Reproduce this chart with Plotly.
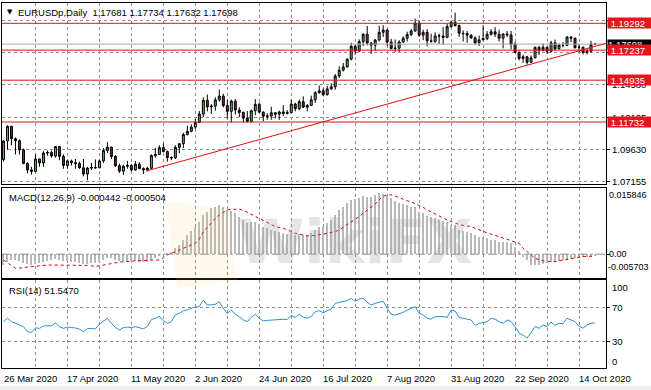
import plotly.graph_objects as go

# ---------------- data (EURUSDp daily, 26 Mar 2020 - 20 Oct 2020) ----------------
open_ = [1.0885, 1.1028, 1.1140, 1.1045, 1.1030, 1.0960, 1.0856, 1.0806, 1.0795, 1.0890,
         1.0860, 1.0935, 1.0940, 1.0913, 1.0985, 1.0910, 1.0840, 1.0875, 1.0862, 1.0855,
         1.0822, 1.0775, 1.0820, 1.0826, 1.0822, 1.0875, 1.0954, 1.0980, 1.0909, 1.0838,
         1.0797, 1.0834, 1.0840, 1.0806, 1.0850, 1.0817, 1.0806, 1.0819, 1.0916, 1.0924,
         1.0977, 1.0947, 1.0901, 1.0899, 1.0979, 1.1007, 1.1077, 1.1102, 1.1134, 1.1170,
         1.1234, 1.1339, 1.1289, 1.1295, 1.1343, 1.1372, 1.1299, 1.1255, 1.1333, 1.1265,
         1.1246, 1.1203, 1.1178, 1.1259, 1.1308, 1.1249, 1.1218, 1.1219, 1.1244, 1.1233,
         1.1250, 1.1239, 1.1245, 1.1311, 1.1275, 1.1329, 1.1287, 1.1300, 1.1343, 1.1398,
         1.1412, 1.1383, 1.1427, 1.1443, 1.1526, 1.1570, 1.1595, 1.1655, 1.1753, 1.1717,
         1.1789, 1.1846, 1.1778, 1.1762, 1.1801, 1.1860, 1.1877, 1.1786, 1.1736, 1.1739,
         1.1786, 1.1815, 1.1843, 1.1870, 1.1930, 1.1838, 1.1860, 1.1795, 1.1791, 1.1832,
         1.1832, 1.1822, 1.1904, 1.1937, 1.1911, 1.1853, 1.1850, 1.1838, 1.1817, 1.1780,
         1.1802, 1.1812, 1.1845, 1.1864, 1.1846, 1.1815, 1.1848, 1.1840, 1.1769, 1.1706,
         1.1660, 1.1673, 1.1631, 1.1665, 1.1745, 1.1722, 1.1745, 1.1715, 1.1780, 1.1734,
         1.1761, 1.1760, 1.1825, 1.1815, 1.1743, 1.1746, 1.1707, 1.1716, 1.17681]
high = [1.1035, 1.1147, 1.1145, 1.1055, 1.1040, 1.0970, 1.0865, 1.0830, 1.0925, 1.0892,
        1.0950, 1.0955, 1.0955, 1.0990, 1.0990, 1.0925, 1.0880, 1.0885, 1.0890, 1.0870,
        1.0890, 1.0830, 1.0860, 1.0887, 1.0885, 1.0973, 1.1019, 1.0985, 1.0920, 1.0855,
        1.0845, 1.0875, 1.0850, 1.0875, 1.0865, 1.0826, 1.0830, 1.0925, 1.0975, 1.0995,
        1.1009, 1.0955, 1.0910, 1.0995, 1.1010, 1.1090, 1.1145, 1.1155, 1.1197, 1.1257,
        1.1362, 1.1384, 1.1310, 1.1362, 1.1422, 1.1390, 1.1343, 1.1345, 1.1350, 1.1285,
        1.1255, 1.1257, 1.1268, 1.1349, 1.1322, 1.1255, 1.1240, 1.1290, 1.1250, 1.1260,
        1.1303, 1.1265, 1.1345, 1.1320, 1.1345, 1.1370, 1.1310, 1.1375, 1.1410, 1.1452,
        1.1430, 1.1450, 1.1470, 1.1540, 1.1600, 1.1625, 1.1660, 1.1780, 1.1765, 1.1806,
        1.1850, 1.1908, 1.1785, 1.1810, 1.1910, 1.1915, 1.1885, 1.1810, 1.1805, 1.1800,
        1.1830, 1.1865, 1.1885, 1.1965, 1.1950, 1.1880, 1.1885, 1.1850, 1.1860, 1.1850,
        1.1900, 1.1925, 1.1950, 1.2011, 1.1920, 1.1875, 1.1870, 1.1845, 1.1830, 1.1835,
        1.1915, 1.1870, 1.1885, 1.1900, 1.1880, 1.1850, 1.1870, 1.1870, 1.1785, 1.1720,
        1.1688, 1.1680, 1.1683, 1.1750, 1.1755, 1.1775, 1.1750, 1.1795, 1.1805, 1.1775,
        1.1785, 1.1830, 1.1830, 1.1820, 1.1770, 1.1750, 1.1730, 1.1795, 1.17734]
low = [1.0870, 1.0960, 1.0995, 1.0925, 1.0925, 1.0850, 1.0780, 1.0770, 1.0790, 1.0830,
       1.0830, 1.0915, 1.0900, 1.0900, 1.0880, 1.0815, 1.0815, 1.0840, 1.0815, 1.0815,
       1.0757, 1.0727, 1.0805, 1.0815, 1.0820, 1.0860, 1.0935, 1.0890, 1.0830, 1.0782,
       1.0767, 1.0815, 1.0795, 1.0800, 1.0810, 1.0775, 1.0795, 1.0815, 1.0900, 1.0920,
       1.0940, 1.0870, 1.0880, 1.0890, 1.0935, 1.0975, 1.1070, 1.1095, 1.1120, 1.1165,
       1.1210, 1.1255, 1.1235, 1.1260, 1.1330, 1.1285, 1.1200, 1.1168, 1.1230, 1.1210,
       1.1170, 1.1168, 1.1170, 1.1225, 1.1240, 1.1180, 1.1190, 1.1190, 1.1200, 1.1190,
       1.1220, 1.1230, 1.1240, 1.1255, 1.1265, 1.1280, 1.1255, 1.1300, 1.1320, 1.1390,
       1.1370, 1.1375, 1.1420, 1.1420, 1.1510, 1.1560, 1.1590, 1.1645, 1.1690, 1.1710,
       1.1755, 1.1760, 1.1695, 1.1720, 1.1790, 1.1825, 1.1755, 1.1730, 1.1710, 1.1710,
       1.1780, 1.1790, 1.1830, 1.1865, 1.1825, 1.1800, 1.1753, 1.1780, 1.1780, 1.1770,
       1.1765, 1.1815, 1.1895, 1.1905, 1.1825, 1.1790, 1.1780, 1.1810, 1.1765, 1.1755,
       1.1800, 1.1800, 1.1835, 1.1825, 1.1790, 1.1737, 1.1825, 1.1730, 1.1700, 1.1645,
       1.1627, 1.1612, 1.1625, 1.1660, 1.1685, 1.1715, 1.1695, 1.1705, 1.1720, 1.1730,
       1.1745, 1.1755, 1.1785, 1.1735, 1.1710, 1.1690, 1.1690, 1.1705, 1.17632]
close = [1.1028, 1.1140, 1.1045, 1.1030, 1.0960, 1.0856, 1.0806, 1.0795, 1.0890, 1.0860,
         1.0935, 1.0940, 1.0913, 1.0985, 1.0910, 1.0840, 1.0875, 1.0862, 1.0855, 1.0822,
         1.0775, 1.0820, 1.0826, 1.0822, 1.0875, 1.0954, 1.0980, 1.0909, 1.0838, 1.0797,
         1.0834, 1.0840, 1.0806, 1.0850, 1.0817, 1.0806, 1.0819, 1.0916, 1.0924, 1.0977,
         1.0947, 1.0901, 1.0899, 1.0979, 1.1007, 1.1077, 1.1102, 1.1134, 1.1170, 1.1234,
         1.1339, 1.1289, 1.1295, 1.1343, 1.1372, 1.1299, 1.1255, 1.1333, 1.1265, 1.1246,
         1.1203, 1.1178, 1.1259, 1.1308, 1.1249, 1.1218, 1.1219, 1.1244, 1.1233, 1.1250,
         1.1239, 1.1245, 1.1311, 1.1275, 1.1329, 1.1287, 1.1300, 1.1343, 1.1398, 1.1412,
         1.1383, 1.1427, 1.1443, 1.1526, 1.1570, 1.1595, 1.1655, 1.1753, 1.1717, 1.1789,
         1.1846, 1.1778, 1.1762, 1.1801, 1.1860, 1.1877, 1.1786, 1.1736, 1.1739, 1.1786,
         1.1815, 1.1843, 1.1870, 1.1930, 1.1838, 1.1860, 1.1795, 1.1791, 1.1832, 1.1832,
         1.1822, 1.1904, 1.1937, 1.1911, 1.1853, 1.1850, 1.1838, 1.1817, 1.1780, 1.1802,
         1.1812, 1.1845, 1.1864, 1.1846, 1.1815, 1.1848, 1.1840, 1.1769, 1.1706, 1.1660,
         1.1673, 1.1631, 1.1665, 1.1745, 1.1722, 1.1745, 1.1715, 1.1780, 1.1734, 1.1761,
         1.1760, 1.1825, 1.1815, 1.1743, 1.1746, 1.1707, 1.1716, 1.1768, 1.17698]

macd_main = [-0.0026, -0.0018, -0.0015, -0.0014, -0.0016, -0.0020, -0.0024, -0.0026, -0.0023, -0.0021,
             -0.0018, -0.0016, -0.0015, -0.0012, -0.0013, -0.0016, -0.0017, -0.0018, -0.0019, -0.0020,
             -0.0023, -0.0023, -0.0022, -0.0021, -0.0019, -0.0014, -0.0010, -0.0010, -0.0013, -0.0016,
             -0.0017, -0.0017, -0.0018, -0.0017, -0.0018, -0.0019, -0.0018, -0.0013, -0.0009, -0.0004,
             0.0000, 0.0003, 0.0006, 0.0014, 0.0022, 0.0035, 0.0046, 0.0056, 0.0066, 0.0078,
             0.0094, 0.0102, 0.0110, 0.0113, 0.0118, 0.0112, 0.0106, 0.0104, 0.0098, 0.0090,
             0.0082, 0.0074, 0.0076, 0.0078, 0.0072, 0.0066, 0.0062, 0.0059, 0.0056, 0.0054,
             0.0051, 0.0049, 0.0050, 0.0046, 0.0048, 0.0046, 0.0045, 0.0050, 0.0058, 0.0064,
             0.0068, 0.0074, 0.0082, 0.0095, 0.0106, 0.0114, 0.0122, 0.0130, 0.0132, 0.0135,
             0.0139, 0.0138, 0.0138, 0.0142, 0.0146, 0.0145, 0.0140, 0.0135, 0.0128, 0.0122,
             0.0119, 0.0117, 0.0114, 0.0112, 0.0102, 0.0098, 0.0092, 0.0090, 0.0086, 0.0082,
             0.0080, 0.0078, 0.0070, 0.0069, 0.0058, 0.0056, 0.0053, 0.0050, 0.0046, 0.0042,
             0.0040, 0.0038, 0.0034, 0.0033, 0.0030, 0.0030, 0.0028, 0.0026, 0.0018, 0.0008,
             -0.0006, -0.0014, -0.0026, -0.0026, -0.0026, -0.0023, -0.0022, -0.0019, -0.0018, -0.0016,
             -0.0015, -0.0013, -0.0012, -0.0010, -0.0008, -0.0007, -0.0006, -0.00055, -0.000442]
macd_signal = [-0.0014, -0.0020, -0.0026, -0.0034, -0.0033, -0.0032, -0.0030, -0.0029, -0.0028, -0.0027,
               -0.0026, -0.0026, -0.0026, -0.0026, -0.0026, -0.0026, -0.0026, -0.0026, -0.0026, -0.0026,
               -0.0026, -0.0027, -0.0028, -0.0029, -0.0028, -0.0026, -0.0024, -0.0022, -0.0020, -0.0019,
               -0.0018, -0.0018, -0.0017, -0.0016, -0.0016, -0.0015, -0.0015, -0.0014, -0.0014, -0.0014,
               -0.0009, -0.0002, 0.0002, 0.0006, 0.0010, 0.0014, 0.0019, 0.0023, 0.0026, 0.0036,
               0.0054, 0.0064, 0.0075, 0.0086, 0.0094, 0.0100, 0.0106, 0.0107, 0.0108, 0.0108,
               0.0105, 0.0100, 0.0095, 0.0090, 0.0085, 0.0080, 0.0074, 0.0070, 0.0066, 0.0064,
               0.0062, 0.0058, 0.0054, 0.0050, 0.0048, 0.0046, 0.0044, 0.0044, 0.0045, 0.0046,
               0.0048, 0.0050, 0.0052, 0.0054, 0.0058, 0.0064, 0.0070, 0.0076, 0.0082, 0.0090,
               0.0098, 0.0105, 0.0111, 0.0120, 0.0130, 0.0139, 0.0141, 0.0142, 0.0139, 0.0135,
               0.0132, 0.0128, 0.0125, 0.0121, 0.0116, 0.0112, 0.0106, 0.0101, 0.0096, 0.0090,
               0.0086, 0.0082, 0.0078, 0.0074, 0.0071, 0.0069, 0.0068, 0.0066, 0.0062, 0.0058,
               0.0054, 0.0051, 0.0048, 0.0045, 0.0042, 0.0039, 0.0036, 0.0033, 0.0030, 0.0026,
               0.0014, 0.0006, -0.0002, -0.0010, -0.0013, -0.0016, -0.0017, -0.0018, -0.0018, -0.0016,
               -0.0014, -0.0012, -0.0010, -0.0008, -0.0006, -0.00055, -0.00052, -0.0005, -0.000504]
rsi = [52.9, 57.0, 53.0, 51.0, 49.0, 47.0, 41.0, 40.3, 45.7, 45.0,
       48.0, 48.0, 48.0, 51.5, 47.0, 45.0, 46.5, 46.0, 45.5, 44.0,
       41.0, 45.0, 45.0, 44.5, 50.0, 54.0, 57.0, 51.0, 46.0, 43.0,
       46.0, 46.5, 46.0, 47.0, 45.5, 44.5, 47.3, 55.4, 57.0, 59.4,
       54.0, 51.0, 53.0, 61.0, 63.0, 66.0, 67.0, 69.0, 70.0, 71.0,
       78.6, 72.7, 73.0, 73.5, 76.6, 68.8, 62.8, 66.8, 61.7, 59.0,
       55.0, 53.0, 58.0, 61.7, 57.0, 53.8, 54.5, 55.0, 55.0, 56.0,
       55.8, 55.5, 60.5, 58.0, 61.7, 58.5, 57.0, 59.0, 64.8, 66.0,
       63.5, 66.0, 68.0, 74.7, 75.5, 76.6, 78.0, 80.6, 77.3, 79.8,
       80.6, 76.0, 72.7, 74.7, 76.0, 77.3, 68.8, 61.7, 60.9, 62.5,
       64.0, 66.8, 68.5, 70.7, 62.8, 60.9, 57.0, 56.0, 59.0, 59.0,
       59.0, 58.0, 66.8, 65.6, 58.0, 57.0, 56.2, 55.0, 48.5, 51.0,
       52.0, 53.0, 57.0, 56.0, 53.0, 51.0, 55.0, 53.0, 47.0, 39.4,
       37.0, 33.5, 40.0, 47.3, 45.0, 49.0, 47.0, 52.5, 48.5, 51.0,
       50.5, 57.0, 55.0, 53.0, 47.3, 45.3, 49.0, 51.0, 51.5470]

bars = list(range(len(close)))
date_label_bars = [0, 16, 32, 48, 64, 80, 96, 112, 128, 144]
date_labels = ["26 Mar 2020", "17 Apr 2020", "11 May 2020", "2 Jun 2020", "24 Jun 2020",
               "16 Jul 2020", "7 Aug 2020", "31 Aug 2020", "22 Sep 2020", "14 Oct 2020"]
grid_bars = [8, 16, 24, 32, 40, 48, 56, 64, 72, 80, 88, 96, 104, 112, 120, 128, 136, 144]
price_ticks = [1.07155, 1.09630, 1.12105, 1.14580, 1.17055, 1.19530]
price_labels_shown = [1.07155, 1.09630, 1.12105, 1.14580, 1.19530]
level_prices = [1.19292, 1.17237, 1.14935, 1.11732]
current_price = 1.17698
trend_x = [35.75, 150.75]
trend_y = [1.0798, 1.1776]
macd_scale = [0.015846, 0.00, -0.005703]
rsi_ticks = [100, 70, 30, 0]

header = "EURUSDp,Daily\u00a0\u00a01.17681\u00a01.17734\u00a01.17632\u00a01.17698"
macd_title = "MACD(12,26,9) -0.000442 -0.000504"
rsi_title = "RSI(14) 51.5470"

# ---------------- styling ----------------
FONT = "Liberation Sans"
FS = 9.5
GRID = "#8c8c8c"
RED = "#e01010"

fig = go.Figure()

fig.add_trace(go.Candlestick(
    x=bars, open=open_, high=high, low=low, close=close,
    increasing=dict(line=dict(color="black", width=1), fillcolor="#5cb15c"),
    decreasing=dict(line=dict(color="black", width=1), fillcolor="#8b2338"),
    whiskerwidth=0, xaxis="x", yaxis="y", hoverinfo="skip", showlegend=False))

fig.add_trace(go.Bar(x=bars, y=macd_main, width=0.3, marker=dict(color="#b8b8b8", line=dict(width=0)),
                     xaxis="x2", yaxis="y2", showlegend=False, hoverinfo="skip"))
fig.add_trace(go.Scatter(x=bars, y=macd_signal, mode="lines",
                         line=dict(color="#d40000", width=1, dash="dot"),
                         xaxis="x2", yaxis="y2", showlegend=False, hoverinfo="skip"))
fig.add_trace(go.Scatter(x=bars, y=rsi, mode="lines", line=dict(color="#2e8fd6", width=1),
                         xaxis="x3", yaxis="y3", showlegend=False, hoverinfo="skip"))

xrange = [-0.375, 150.75]
xcommon = dict(range=xrange, showticklabels=False, tickvals=grid_bars, showgrid=True,
               gridcolor=GRID, griddash="3px,3px", gridwidth=1, ticks="", zeroline=False,
               showline=True, mirror=True, linecolor="black", linewidth=1, fixedrange=True)
ycommon = dict(side="right", showline=True, mirror=True, linecolor="black", linewidth=1,
               zeroline=False, showticklabels=False, ticks="outside", ticklen=3,
               tickcolor="black", fixedrange=True)

fig.update_layout(
    width=651, height=390,
    margin=dict(l=2, r=45, t=3, b=22),
    paper_bgcolor="white", plot_bgcolor="white",
    showlegend=False, bargap=0,
    xaxis=dict(**xcommon, anchor="y", rangeslider=dict(visible=False)),
    xaxis2=dict(**xcommon, anchor="y2", matches="x"),
    xaxis3=dict(**xcommon, anchor="y3", matches="x"),
    yaxis=dict(**ycommon, domain=[0.5041, 1.0], range=[1.06983, 1.20847], tickvals=price_ticks,
               showgrid=True, gridcolor=GRID, griddash="3px,3px", anchor="x"),
    yaxis2=dict(**ycommon, domain=[0.2466, 0.4932], range=[-0.005703, 0.015846],
                tickvals=[0.0], showgrid=False, anchor="x2"),
    yaxis3=dict(**ycommon, domain=[0.0, 0.2411], range=[-2.0, 102.4], tickvals=[30, 70],
                showgrid=True, gridcolor=GRID, griddash="3px,3px", anchor="x3"),
    font=dict(family=FONT, size=FS, color="black"),
)

# ---------------- shapes ----------------
shapes = []
shapes.append(dict(type="line", xref="x domain", x0=0, x1=1, yref="y2", y0=0, y1=0,
                   line=dict(color="#909090", width=1, dash="dashdot")))
shapes.append(dict(type="line", xref="x domain", x0=0, x1=1, yref="y", y0=current_price, y1=current_price,
                   line=dict(color="#a8a8a8", width=1)))
for p in level_prices:
    shapes.append(dict(type="line", xref="x domain", x0=0, x1=1, yref="y", y0=p, y1=p,
                       line=dict(color=RED, width=1)))
shapes.append(dict(type="line", xref="x", yref="y", x0=trend_x[0], x1=trend_x[1],
                   y0=trend_y[0], y1=trend_y[1], line=dict(color=RED, width=1)))
shapes.append(dict(type="rect", xref="paper", yref="paper", x0=-0.01, x1=1.08, y0=-0.07, y1=-0.0493,
                   fillcolor="#f0f0f0", line=dict(width=0), layer="below"))
# faint watermark logo (tilted rounded square)
shapes.append(dict(type="path", xref="paper", yref="paper",
                   path="M 0.27,0.46 L 0.37,0.43 L 0.39,0.24 L 0.29,0.22 Z",
                   fillcolor="rgba(250,205,100,0.12)", line=dict(width=0)))
fig.update_layout(shapes=shapes)

# ---------------- annotations ----------------
def txt(text, **kw):
    base = dict(text=text, showarrow=False, font=dict(family=FONT, size=FS, color="black"))
    base.update(kw)
    fig.add_annotation(**base)

txt("<b>WikiFX</b>", xref="paper", yref="paper", x=0.585, y=0.345, xanchor="center", yanchor="middle",
    font=dict(family="DejaVu Sans", size=60, color="rgba(160,160,160,0.28)"))

txt("\u25BC", xref="paper", yref="y domain", x=0, y=1, xanchor="left", yanchor="top", xshift=3, yshift=-3,
    font=dict(family="DejaVu Sans", size=7, color="black"))
txt(header, xref="paper", yref="y domain", x=0, y=1, xanchor="left", yanchor="top", xshift=14, yshift=-2)
txt(macd_title, xref="paper", yref="y2 domain", x=0, y=1, xanchor="left", yanchor="top", xshift=5, yshift=-2)
txt(rsi_title, xref="paper", yref="y3 domain", x=0, y=1, xanchor="left", yanchor="top", xshift=5, yshift=-3)

for b, lab in zip(date_label_bars, date_labels):
    txt(lab, xref="x3", yref="y3 domain", x=b, y=0, xanchor="left", yanchor="top", xshift=-2, yshift=-3)

for p in price_labels_shown:
    txt(f"{p:.5f}", xref="paper", yref="y", x=1, y=p, xanchor="left", yanchor="middle", xshift=4)

AX_FS = 9
txt(f"{macd_scale[0]:.6f}", xref="paper", yref="y2", x=1, y=macd_scale[0], xanchor="left",
    yanchor="middle", xshift=1, yshift=-7, font=dict(family=FONT, size=AX_FS, color="black"))
txt(f"{macd_scale[1]:.2f}", xref="paper", yref="y2", x=1, y=macd_scale[1], xanchor="left",
    yanchor="middle", xshift=1, font=dict(family=FONT, size=AX_FS, color="black"))
txt(f"{macd_scale[2]:.6f}", xref="paper", yref="y2", x=1, y=macd_scale[2], xanchor="left",
    yanchor="middle", xshift=0, yshift=11, font=dict(family=FONT, size=AX_FS, color="black"))

rsi_shift = {100: -5, 70: 0, 30: 0, 0: 5}
for v in rsi_ticks:
    txt(str(v), xref="paper", yref="y3", x=1, y=v, xanchor="left", yanchor="middle", xshift=4,
        yshift=rsi_shift[v])

txt(f"{current_price:.5f}", xref="paper", yref="y", x=1, y=current_price, xanchor="left",
    yanchor="middle", xshift=1, width=44, height=9, align="left", bgcolor="black", borderpad=0,
    font=dict(family=FONT, size=FS, color="white"))
for p in level_prices:
    txt(f"\u00a0{p:.5f}", xref="paper", yref="y", x=1, y=p, xanchor="left", yanchor="middle",
        xshift=1, width=44, height=10, align="left", bgcolor="#e8161c", borderpad=0,
        font=dict(family=FONT, size=FS, color="white"))

fig.write_html("out.html", config={"displayModeBar": False},
               post_script="document.body.style.margin='0';")
